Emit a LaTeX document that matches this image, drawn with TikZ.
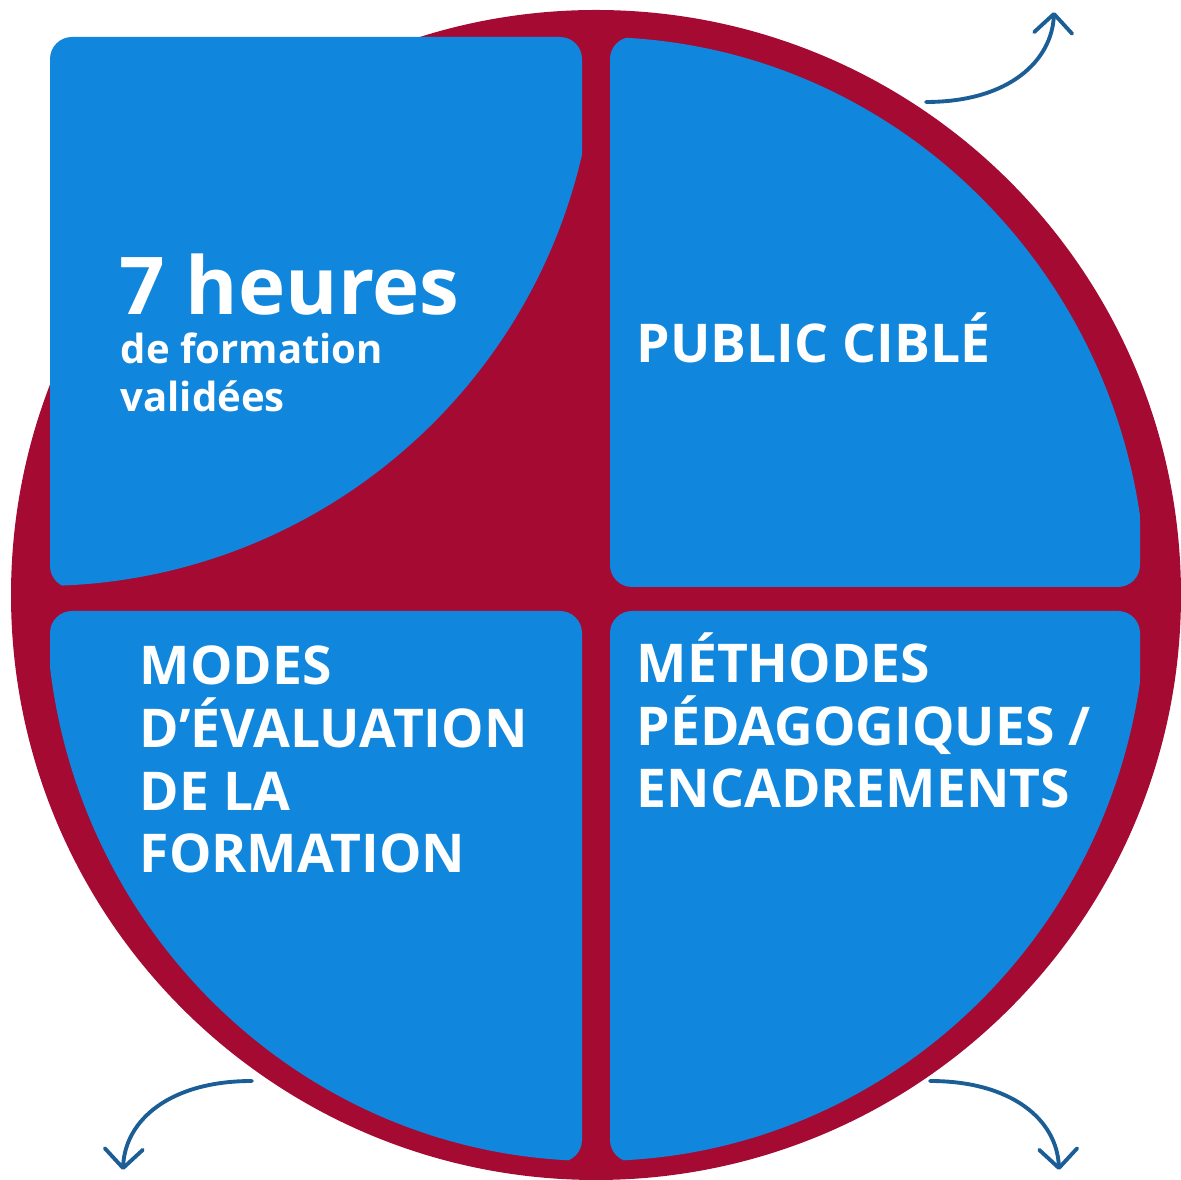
\documentclass[tikz,border=0pt]{standalone}
\usepackage{fontspec}
\setmainfont{Open Sans}
\usetikzlibrary{arrows.meta, positioning}
\definecolor{ringred}{HTML}{A50A33}
\definecolor{panelblue}{HTML}{1086DC}
\definecolor{arrowblue}{HTML}{1B5E96}

\begin{document}
\begin{tikzpicture}[x=0.01cm, y=-0.01cm,
    panel/.style={fill=panelblue, rounded corners=0.22cm},
    heading/.style={text=white, anchor=base west, inner sep=0pt, align=left,
        font=\fontsize{15.2}{17.9}\selectfont\bfseries},
    swoosh/.style={arrowblue, line width=1.1pt, line cap=round,
        -{Straight Barb[length=1.9mm, width=3.8mm, round]}}]
\useasboundingbox (0,0) rectangle (1181,1180);

\coordinate (O) at (596,595);
\coordinate (I) at (596,599);

% red disc behind the four panels
\fill[ringred] (O) circle[radius=585];

\begin{scope}
    \clip (I) ellipse[x radius=550, y radius=562];
    \fill[panel] (610,37) rectangle (1140,587);
    \fill[panel] (50,611) rectangle (582,1162);
    \fill[panel] (610,611) rectangle (1140,1162);
\end{scope}
\begin{scope}
    \clip (40,30) circle[radius=556];
    \fill[panel] (50,37) rectangle (582,588);
\end{scope}

% multi-line nodes sit on the baseline of their last line
\node[heading, font=\fontsize{22.7}{26}\selectfont\bfseries] (hours) at (119,315) {7 heures};
\node[heading, font=\fontsize{11.4}{13.66}\selectfont\bfseries] (hourstext) at (120,412) {de formation\\validées};
\node[heading] (public) at (636,363) {PUBLIC CIBLÉ};
\node[heading] (modes) at (139,873) {MODES\\D’ÉVALUATION\\DE LA\\FORMATION};
\node[heading] (methodes) at (636,808) {MÉTHODES\\PÉDAGOGIQUES /\\ENCADREMENTS};

\coordinate (A0) at (926,102);
\coordinate (A1) at (1054,12);
\coordinate (B0) at (252,1081);
\coordinate (B1) at (123,1170);
\coordinate (C0) at (930,1081);
\coordinate (C1) at (1059,1170);

\draw[swoosh] (A0) .. controls (1010,102) and (1052,60) .. (A1);
\draw[swoosh] (B0) .. controls (170,1081) and (125,1120) .. (B1);
\draw[swoosh] (C0) .. controls (1012,1081) and (1057,1120) .. (C1);
\end{tikzpicture}
\end{document}
